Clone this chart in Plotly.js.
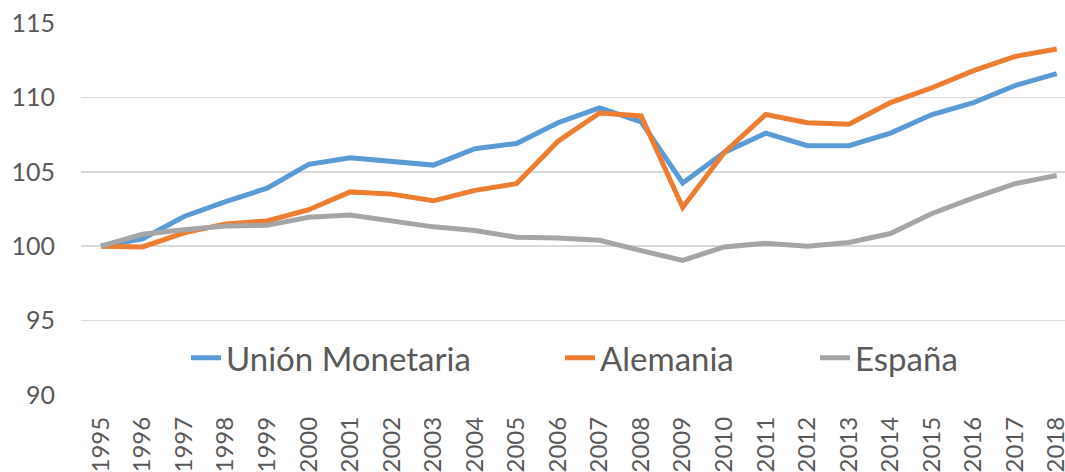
<!DOCTYPE html>
<html>
<head>
<meta charset="utf-8">
<script src="https://cdn.plot.ly/plotly-3.0.1.min.js"></script>
<style>html,body{margin:0;padding:0;background:#fff;}#chart{width:1065px;height:472px;}</style>
</head>
<body>
<div id="chart"></div>
<script>
const years = ['1995','1996','1997','1998','1999','2000','2001','2002','2003','2004','2005','2006','2007','2008','2009','2010','2011','2012','2013','2014','2015','2016','2017','2018'];
const unionMonetaria = [100, 100.5, 102.0, 103.0, 103.9, 105.5, 105.95, 105.7, 105.45, 106.55, 106.9, 108.3, 109.3, 108.35, 104.25, 106.3, 107.6, 106.75, 106.75, 107.6, 108.85, 109.65, 110.8, 111.6];
const alemania = [100, 99.95, 100.9, 101.5, 101.7, 102.45, 103.65, 103.5, 103.05, 103.75, 104.2, 107.05, 108.95, 108.75, 102.6, 106.3, 108.85, 108.3, 108.2, 109.65, 110.65, 111.8, 112.75, 113.25];
const espana = [100, 100.8, 101.1, 101.35, 101.4, 101.95, 102.1, 101.7, 101.3, 101.05, 100.6, 100.55, 100.4, 99.7, 99.05, 99.95, 100.2, 100.0, 100.25, 100.85, 102.2, 103.25, 104.2, 104.75];
const seriesNames = ['Unión Monetaria', 'Alemania', 'España'];
const yTicks = [90, 95, 100, 105, 110, 115];

const colors = ['#5B9BD5', '#ED7D31', '#A5A5A5'];
const font = 'Lato, "Open Sans", sans-serif';
const textColor = '#595959';
const allSeries = [unionMonetaria, alemania, espana];
const legendIds = ['legend', 'legend2', 'legend3'];

const traces = allSeries.map((s, i) => ({
  type: 'scatter', mode: 'lines', x: years, y: s, name: seriesNames[i],
  line: {color: colors[i], width: 5},
  legend: legendIds[i]
}));

const legStyle = (x) => ({
  orientation: 'h', x: x, xanchor: 'left', y: 0.10, yanchor: 'middle',
  font: {family: font, size: 33, color: textColor},
  bgcolor: 'rgba(0,0,0,0)', borderwidth: 0
});

const layout = {
  width: 1065, height: 472,
  margin: {l: 81, r: 0, t: 23, b: 77},
  paper_bgcolor: '#fff', plot_bgcolor: '#fff',
  showlegend: true,
  legend: legStyle((186 - 81) / 984),
  legend2: legStyle((560 - 81) / 984),
  legend3: legStyle((815 - 81) / 984),
  xaxis: {
    type: 'category', range: [-0.48, 23.2],
    tickangle: -90, showgrid: false, zeroline: false, showline: false,
    ticks: '', ticklabelstandoff: 16,
    tickfont: {family: font, size: 24, color: textColor}
  },
  yaxis: {
    range: [90, 115], tickvals: yTicks, ticktext: yTicks.map(String),
    showgrid: true, gridcolor: '#D9D9D9', gridwidth: 1.5, zeroline: false, showline: false,
    ticks: '', ticklabelstandoff: 25,
    tickfont: {family: font, size: 25, color: textColor}
  }
};

Plotly.newPlot('chart', traces, layout, {displayModeBar: false, staticPlot: true});
</script>
</body>
</html>
